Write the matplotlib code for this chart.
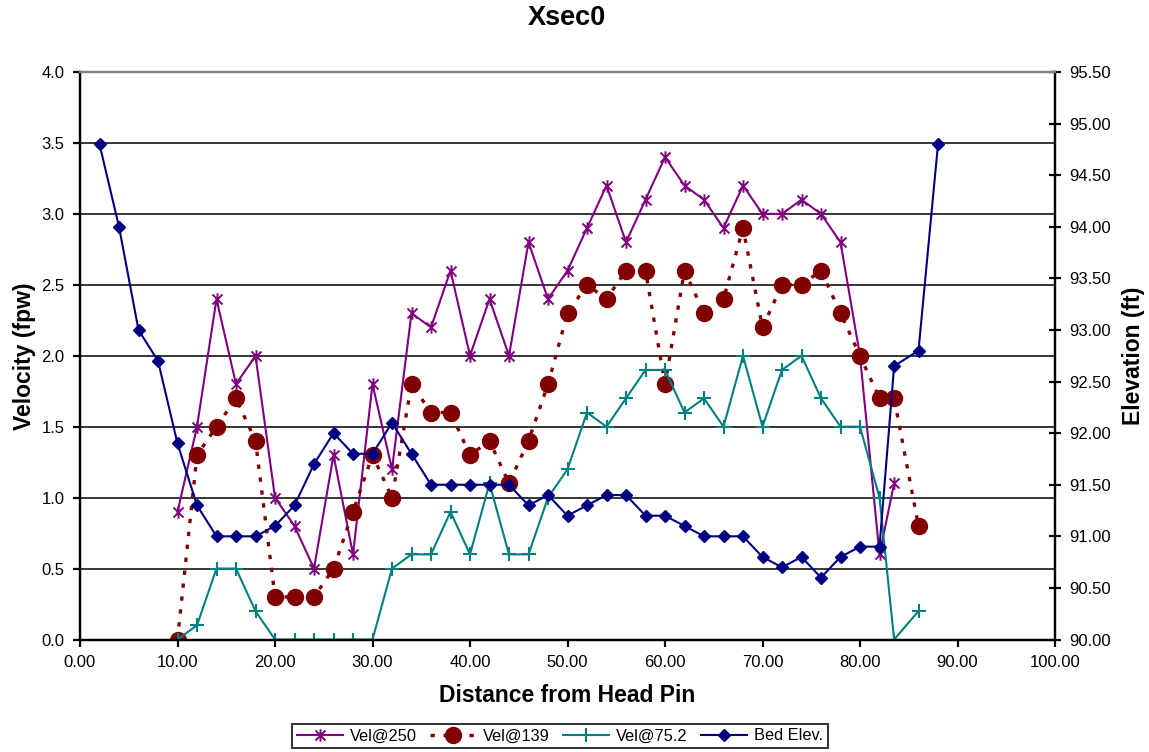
import numpy as np
import matplotlib
matplotlib.use("Agg")
import matplotlib.pyplot as plt
from matplotlib.path import Path
from matplotlib.ticker import FormatStrFormatter, MultipleLocator

plt.rcParams['font.family'] = ['Liberation Sans', 'DejaVu Sans']

nan = np.nan
# Distances for velocity series
vel_x = [10, 12, 14, 16, 18, 20, 22, 24, 26, 28, 30, 32, 34, 36, 38, 40, 42, 44, 46, 48,
         50, 52, 54, 56, 58, 60, 62, 64, 66, 68, 70, 72, 74, 76, 78, 80, 82, 83.5, 86]
vel_250 = [0.9, 1.5, 2.4, 1.8, 2.0, 1.0, 0.8, 0.5, 1.3, 0.6, 1.8, 1.2, 2.3, 2.2, 2.6, 2.0, 2.4, 2.0, 2.8, 2.4,
           2.6, 2.9, 3.2, 2.8, 3.1, 3.4, 3.2, 3.1, 2.9, 3.2, 3.0, 3.0, 3.1, 3.0, 2.8, 2.0, 0.6, 1.1, nan]
vel_139 = [0.0, 1.3, 1.5, 1.7, 1.4, 0.3, 0.3, 0.3, 0.5, 0.9, 1.3, 1.0, 1.8, 1.6, 1.6, 1.3, 1.4, 1.1, 1.4, 1.8,
           2.3, 2.5, 2.4, 2.6, 2.6, 1.8, 2.6, 2.3, 2.4, 2.9, 2.2, 2.5, 2.5, 2.6, 2.3, 2.0, 1.7, 1.7, 0.8]
vel_75 = [0.0, 0.1, 0.5, 0.5, 0.2, 0.0, 0.0, 0.0, 0.0, 0.0, 0.0, 0.5, 0.6, 0.6, 0.9, 0.6, 1.1, 0.6, 0.6, 1.0,
          1.2, 1.6, 1.5, 1.7, 1.9, 1.9, 1.6, 1.7, 1.5, 2.0, 1.5, 1.9, 2.0, 1.7, 1.5, 1.5, 1.0, 0.0, 0.2]

# Bed elevation
bed_x = [2, 4, 6, 8, 10, 12, 14, 16, 18, 20, 22, 24, 26, 28, 30, 32, 34, 36, 38, 40, 42, 44,
         46, 48, 50, 52, 54, 56, 58, 60, 62, 64, 66, 68, 70, 72, 74, 76, 78, 80, 82, 83.5, 86, 88]
bed_elev = [94.8, 94.0, 93.0, 92.7, 91.9, 91.3, 91.0, 91.0, 91.0, 91.1, 91.3, 91.7, 92.0, 91.8, 91.8,
            92.1, 91.8, 91.5, 91.5, 91.5, 91.5, 91.5, 91.3, 91.4, 91.2, 91.3, 91.4, 91.4, 91.2, 91.2,
            91.1, 91.0, 91.0, 91.0, 90.8, 90.7, 90.8, 90.6, 90.8, 90.9, 90.9, 92.65, 92.8, 94.8]

series_labels = ['Vel@250', 'Vel@139', 'Vel@75.2', 'Bed Elev.']

star = Path([(0, -1), (0, 1), (-0.8, -0.8), (0.8, 0.8), (-0.8, 0.8), (0.8, -0.8)],
            [Path.MOVETO, Path.LINETO] * 3)

fig = plt.figure(figsize=(11.49, 7.52), dpi=100)
ax = fig.add_axes([80 / 1149, 1 - 639.5 / 752, (1055 - 80) / 1149, (639.5 - 72) / 752])
ax2 = ax.twinx()

purple = '#800080'
dred = '#800000'
teal = '#008080'
navy = '#000080'

l1, = ax.plot(vel_x, vel_250, color=purple, lw=1.5, marker=star, ms=9, mew=1.4,
              mec=purple, mfc='none', label=series_labels[0], zorder=3)
l2, = ax.plot(vel_x, vel_139, color=dred, lw=2.4, ls=(0, (1.3, 2.6)), marker='o', ms=11.5,
              mec=dred, mfc=dred, label=series_labels[1], zorder=4)
l3, = ax.plot(vel_x, vel_75, color=teal, lw=1.5, marker='+', ms=10, mew=1.5,
              label=series_labels[2], zorder=5)
l4, = ax2.plot(bed_x, bed_elev, color=navy, lw=1.5, marker='D', ms=6.5,
               mec=navy, mfc=navy, label=series_labels[3], zorder=6)

ax.set_xlim(0, 100)
ax.set_ylim(0, 4.0)
ax2.set_ylim(90.0, 95.5)
ax.xaxis.set_major_locator(MultipleLocator(10))
ax.yaxis.set_major_locator(MultipleLocator(0.5))
ax2.yaxis.set_major_locator(MultipleLocator(0.5))
ax.xaxis.set_major_formatter(FormatStrFormatter('%.2f'))
ax.yaxis.set_major_formatter(FormatStrFormatter('%.1f'))
ax2.yaxis.set_major_formatter(FormatStrFormatter('%.2f'))

ax.yaxis.grid(True, color='black', lw=1.1)
ax.set_axisbelow(True)

for a in (ax, ax2):
    for s in a.spines.values():
        s.set_linewidth(1.6)
        s.set_color('black')
    a.spines['top'].set_color('#808080')

ax.tick_params(axis='both', direction='out', length=5, width=1.6, labelsize=12, pad=6)
ax2.tick_params(axis='y', direction='inout', length=8, width=1.6, labelsize=12, pad=6)

ax.set_xlabel('Distance from Head Pin', fontsize=16.5, fontweight='bold', labelpad=10)
ax.set_ylabel('Velocity (fpw)', fontsize=16.5, fontweight='bold', labelpad=4)
ax2.set_ylabel('Elevation (ft)', fontsize=16.5, fontweight='bold', labelpad=8)

fig.text(567 / 1149, 1 - 18 / 752, 'Xsec0', fontsize=19.5, fontweight='bold', ha='center', va='center')

leg = fig.legend([l1, l2, l3, l4], series_labels, loc='center', ncol=4,
                 bbox_to_anchor=(560 / 1149, 1 - 736 / 752), fontsize=11.8, frameon=True,
                 fancybox=False, edgecolor='black', handlelength=2.8, columnspacing=0.8,
                 handletextpad=0.45, borderpad=0.3, borderaxespad=0)
leg.get_frame().set_linewidth(1.4)

fig.savefig('out.png', dpi=100)
